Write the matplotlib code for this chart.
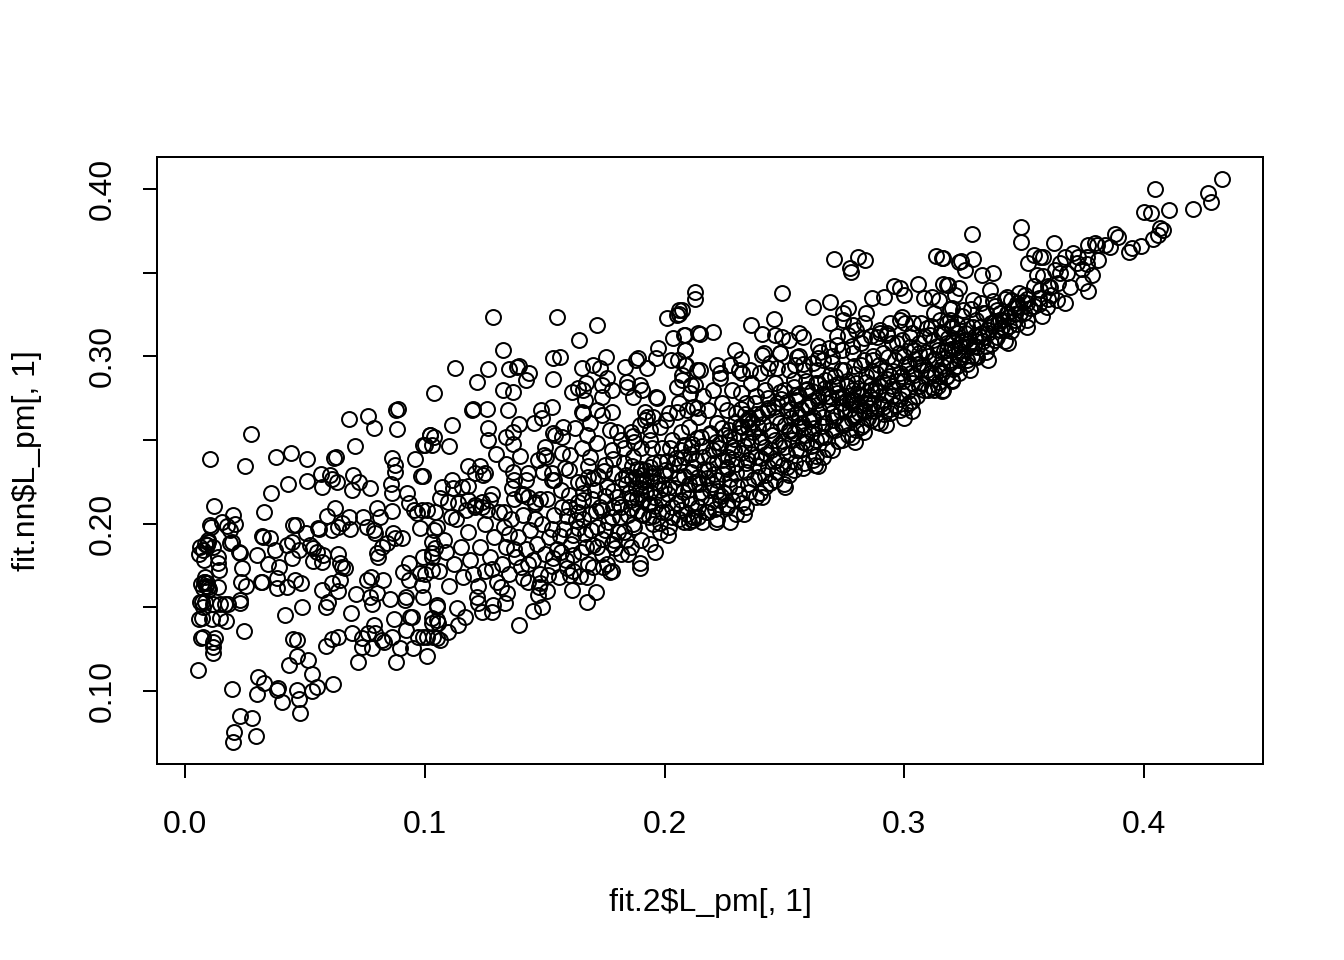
import numpy as np
import matplotlib
matplotlib.use("Agg")
import matplotlib.pyplot as plt

plt.rcParams['font.family'] = ['Liberation Sans', 'DejaVu Sans']

x_label = "fit.2$L_pm[, 1]"
y_label = "fit.nn$L_pm[, 1]"
x_ticks = [0.0, 0.1, 0.2, 0.3, 0.4]
x_tick_labels = ["0.0", "0.1", "0.2", "0.3", "0.4"]
y_ticks = [0.10, 0.15, 0.20, 0.25, 0.30, 0.35, 0.40]
y_tick_labels = ["0.10", "", "0.20", "", "0.30", "", "0.40"]

left_edge = [
(.0104,.2387),(.0104,.1992),(.0107,.1982),(.0122,.2108),(.0153,.2012),(.0202,.2052),(.0209,.1998),(.0174,.1986),
(.0188,.1962),(.0090,.1873),(.0063,.1863),(.0097,.1893),(.0118,.1863),(.0076,.1843),(.0060,.1819),(.0139,.1803),
(.0139,.1763),(.0143,.1723),(.0081,.1783),(.0188,.1887),(.0195,.1893),(.0227,.1833),(.0229,.1823),(.0239,.1737),
(.0232,.1654),(.0253,.1628),(.0229,.1544),(.0229,.1524),(.0246,.1361),(.0067,.1640),(.0090,.1644),(.0083,.1654),
(.0097,.1624),(.0076,.1614),(.0139,.1620),(.0083,.1683),(.0063,.1534),(.0083,.1534),(.0076,.1504),(.0118,.1520),
(.0146,.1520),(.0167,.1520),(.0181,.1520),(.0060,.1428),(.0069,.1434),(.0111,.1428),(.0146,.1434),(.0170,.1418),
(.0065,.1315),(.0076,.1321),(.0125,.1315),(.0115,.1295),(.0118,.1265),(.0115,.1225),(.0056,.1126),(.0085,.1880),
(.0080,.1650),(.0088,.1630),(.0094,.1900),(.0072,.1530),(.0100,.1610),(.0274,.2536),(.0249,.2343),
]
lower_left = [
(.0197,.1010),(.0229,.0853),(.0278,.0837),(.0204,.0757),(.0202,.0697),(.0296,.0733),(.0306,.1086),(.0331,.1050),
(.0302,.0980),(.0389,.1016),(.0382,.1006),(.0406,.0936),(.0466,.1006),(.0477,.0950),(.0480,.0870),(.0531,.1000),
(.0552,.1026),(.0616,.1042),(.0531,.1100),(.0514,.1185),(.0466,.1209),(.0434,.1155),(.0452,.1309),(.0466,.1305),
(.0587,.1271),(.0612,.1309),(.0637,.1321),(.0698,.1345),(.0720,.1175),(.0737,.1315),(.0737,.1265),(.0779,.1255),
(.0761,.1345),(.0788,.1394),(.0793,.1345),(.0820,.1305),(.0830,.1295),(.0862,.1325),(.0897,.1255),(.0879,.1175),
(.0952,.1255),(.0973,.1325),(.1011,.1209),(.1008,.1325),(.1050,.1315),(.0922,.1365),(.0939,.1440),(.0945,.1444),
(.0873,.1428),(.0691,.1464),(.0487,.1500),(.0417,.1454),(.0587,.1500),(.0595,.1534),(.0570,.1604),(.0612,.1648),
(.0637,.1598),(.0647,.1664),(.0713,.1580),(.0772,.1564),(.0779,.1520),(.0800,.1584),(.0855,.1548),(.0918,.1544),
(.0922,.1564),(.0758,.1664),(.0775,.1683),(.0825,.1664),(.0987,.1634),(.0994,.1564),(.1050,.1514),(.1029,.1404),
(.1050,.1424),
]
upper_left = [
(.0380,.2399),(.0441,.2423),(.0510,.2387),(.0684,.2626),(.0763,.2646),(.0786,.2572),(.0890,.2684),(.0880,.2680),
(.0884,.2568),(.0709,.2466),(.0628,.2400),(.0620,.2395),(.0959,.2385),(.0865,.2391),(.0875,.2351),(.0875,.2309),
(.0983,.2285),(.1022,.2530),(.0994,.2470),(.0302,.1813),(.0327,.1923),(.0320,.1927),(.0355,.1913),(.0376,.1843),
(.0424,.1873),(.0445,.1893),(.0477,.1843),(.0448,.1793),(.0348,.1759),(.0392,.1743),(.0315,.1654),(.0322,.1654),
(.0382,.1673),(.0385,.1614),(.0424,.1624),(.0459,.1664),(.0484,.1644),(.0521,.1873),(.0535,.1853),(.0549,.1833),
(.0577,.1813),(.0535,.1777),(.0570,.1773),(.0640,.1817),(.0647,.1763),(.0654,.1743),(.0668,.1738),(.0452,.1995),
(.0462,.1991),(.0503,.1942),(.0556,.1977),(.0560,.1967),(.0591,.2046),(.0626,.2092),(.0612,.1962),(.0640,.1982),
(.0654,.2002),(.0688,.1966),(.0685,.2038),(.0744,.2042),(.0758,.1982),(.0786,.1962),(.0800,.2092),(.0814,.2042),
(.0793,.1946),(.0868,.1942),(.0904,.1917),(.0876,.1913),(.0862,.2078),(.0841,.1883),(.0820,.1863),(.0800,.1823),
(.0806,.1803),(.0331,.2068),(.0360,.2185),(.0430,.2235),(.0507,.2255),(.0566,.2297),(.0605,.2291),(.0612,.2265),
(.0570,.2217),(.0633,.2251),(.0699,.2291),(.0727,.2251),(.0695,.2201),(.0772,.2215),(.0858,.2237),(.0862,.2181),
(.0925,.2181),(.0932,.2122),(.0953,.2082),(.0987,.2082),(.0967,.2062),(.1008,.2082),(.1043,.2072),(.0932,.1763),
(.0911,.1709),(.0932,.1664),(.0980,.1703),(.0994,.1803),(.1029,.1823),(.1043,.1853),(.1029,.1723),(.0980,.1972),
(.1029,.1893),(.1050,.1982),
]
upper_mid = [
(.1283,.3237),(.1550,.3233),(.1720,.3188),(.1645,.3098),(.1328,.3038),(.1533,.2992),(.1564,.2994),(.1754,.2998),
(.1126,.2933),(.1262,.2923),(.1219,.2845),(.1038,.2779),(.1353,.2925),(.1383,.2939),(.1393,.2942),(.1436,.2903),
(.1422,.2859),(.1328,.2799),(.1369,.2785),(.1533,.2863),(.1196,.2679),(.1200,.2685),(.1261,.2685),(.1348,.2679),
(.1112,.2590),(.1102,.2466),(.1022,.2530),(.1038,.2520),(.1001,.2470),(.1029,.2470),(.1265,.2574),(.1265,.2500),
(.1297,.2416),(.1337,.2520),(.1369,.2550),(.1393,.2596),(.1367,.2476),(.1397,.2405),(.1339,.2357),(.1483,.2679),
(.1529,.2699),(.1488,.2630),(.1456,.2604),(.1182,.2345),(.1230,.2347),(.1209,.2303),(.1244,.2291),(.1251,.2301),
(.0991,.2285),(.1070,.2221),(.1112,.2261),(.1119,.2211),(.1154,.2221),(.1182,.2225),(.1063,.2151),(.1098,.2132),
(.1140,.2122),(.1182,.2142),(.1209,.2112),(.1272,.2142),(.1237,.2102),(.1369,.2311),(.1373,.2261),(.1362,.2211),
(.1422,.2261),(.1432,.2305),(.1404,.2171),(.1432,.2161),(.1460,.2132),(.1474,.2381),(.1501,.2460),(.1497,.2411),
(.1505,.2401),(.1492,.2311),(.1532,.2301),(.1529,.2261),(.1536,.2540),(.1543,.2530),(.1578,.2580),(.1571,.2520),
(.1571,.2420),(.1606,.2411),(.1585,.2331),(.1627,.2570),(.1675,.2530),(.1654,.2450),(.1717,.2484),(.1689,.2401),
(.1682,.2347),(.1615,.2789),(.1640,.2809),(.1661,.2799),(.1672,.2839),(.1668,.2739),(.1654,.2929),(.1703,.2949),
(.1731,.2929),(.1738,.2829),(.1759,.2869),(.1779,.2799),(.1738,.2759),(.1654,.2670),(.1661,.2660),(.1717,.2679),
(.1738,.2650),(.1779,.2670),(.1689,.2600),(.1773,.2560),(.1800,.2550),(.1867,.2524),(.1898,.2590),(.1939,.2560),
(.2006,.2620),(.1925,.2640),(.1953,.2640),(.1919,.2670),(.1967,.2749),(.1964,.2759),(.1870,.2759),(.1842,.2849),
(.1842,.2819),(.1898,.2829),(.1905,.2799),(.1835,.2939),(.1881,.2978),(.1891,.2988),(.1928,.2929),(.1964,.2988),
(.1974,.3048),(.2009,.3227),(.2053,.3247),(.2062,.3277),(.2037,.3108),(.2081,.3128),(.2141,.3138),(.2085,.3038),
(.2026,.2978),(.2057,.2978),(.2085,.2949),(.2072,.2889),(.2072,.2859),(.2051,.2819),(.2134,.2919),(.2127,.2829),
(.2106,.2779),(.2051,.2670),(.2092,.2680),(.2134,.2690),
]
lower_mid = [
(.1393,.1394),(.1453,.1480),(.1488,.1504),(.1615,.1604),(.1678,.1534),(.1713,.1590),(.1773,.1713),(.1898,.1733),
(.1898,.1763),(.1960,.1833),(.1849,.1817),(.2016,.1932),(.2120,.2022),(.1050,.1504),(.1133,.1494),(.1168,.1444),
(.1140,.1394),(.1029,.1434),(.1056,.1404),(.1036,.1325),(.1063,.1305),(.1098,.1355),(.0994,.1325),(.1216,.1564),
(.1223,.1524),(.1237,.1474),(.1279,.1474),(.1286,.1514),(.1335,.1524),(.1344,.1588),(.1318,.1624),(.1474,.1574),
(.1478,.1624),(.1480,.1644),(.1515,.1693),(.1408,.1673),(.1592,.1733),(.1606,.1693),(.1647,.1687),(.1675,.1683),
(.1703,.1743),(.1745,.1743),(.1793,.1853),
]
body_low = [
(.100,.170),(.103,.180),(.106,.172),(.108,.190),(.110,.163),(.112,.176),(.113,.203),(.115,.186),(.116,.168),
(.118,.195),(.119,.178),(.121,.210),(.122,.163),(.123,.186),(.125,.172),(.125,.200),(.127,.180),(.128,.218),
(.129,.192),(.130,.165),(.131,.207),(.132,.176),(.133,.198),(.134,.186),(.135,.170),(.136,.203),(.137,.215),
(.138,.180),(.139,.192),(.140,.174),(.141,.205),(.142,.185),(.143,.165),(.144,.196),(.145,.178),(.146,.212),
(.147,.188),(.148,.170),(.149,.200),(.150,.182),(.151,.215),(.152,.192),(.153,.175),(.154,.205),(.155,.185),
(.156,.168),(.157,.220),(.158,.197),(.159,.178),(.160,.210),(.161,.188),(.162,.172),(.163,.202),(.164,.225),
(.165,.183),(.166,.214),(.167,.194),(.168,.176),(.169,.206),(.170,.187),(.171,.220),(.172,.198),(.104,.196),
(.111,.204),(.117,.208),(.124,.213),(.126,.208),(.133,.207),(.120,.170),(.128,.173),(.137,.185),(.143,.176),
(.151,.160),(.153,.197),(.157,.183),(.162,.193),(.166,.203),(.160,.232),(.168,.228),(.173,.210),(.172,.186),
(.176,.176),(.154,.226),(.148,.215),(.141,.218),(.109,.183),(.146,.203),(.135,.194),(.164,.213),
(.1535,.1795),(.1563,.1925),(.1592,.2043),(.1618,.1812),(.1641,.1973),(.1672,.1858),(.1694,.1962),(.1713,.2074),
(.1738,.1911),(.1766,.2013),(.1782,.1876),(.1571,.2098),(.1603,.2173),(.1637,.2071),(.1658,.2245),(.1697,.2149),
(.1724,.2287),(.1752,.2163),(.1787,.2098),(.1807,.1948),(.1816,.2041),(.1839,.1903),(.1858,.2093),(.1873,.1979),
]
band_a = [
(.174,.182),(.175,.196),(.174,.208),(.176,.222),(.175,.235),(.178,.172),(.179,.190),(.178,.204),(.180,.216),
(.179,.230),(.178,.244),(.182,.182),(.183,.195),(.182,.210),(.184,.224),(.183,.236),(.182,.250),(.186,.186),
(.187,.200),(.186,.214),(.188,.228),(.187,.240),(.186,.255),(.190,.190),(.191,.205),(.190,.218),(.192,.232),
(.191,.226),(.190,.245),(.192,.262),(.194,.188),(.195,.200),(.194,.212),(.196,.225),(.195,.236),(.194,.250),
(.198,.195),(.199,.207),(.198,.220),(.200,.232),(.199,.245),(.198,.258),(.202,.198),(.203,.210),(.202,.222),
(.204,.236),(.203,.250),(.202,.266),(.206,.203),(.207,.214),(.206,.228),(.208,.240),(.207,.255),(.206,.272),
(.210,.201),(.211,.212),(.210,.224),(.212,.234),(.211,.246),(.210,.258),(.212,.270),(.211,.283),(.214,.204),
(.215,.216),(.214,.228),(.216,.240),(.215,.252),(.214,.264),(.216,.276),(.218,.207),(.219,.220),(.218,.232),
(.220,.244),(.219,.254),(.218,.268),(.220,.280),(.222,.203),(.223,.214),(.222,.226),(.224,.238),(.223,.248),
(.222,.260),(.224,.272),(.223,.287),(.226,.210),(.227,.222),(.226,.234),(.228,.246),(.227,.256),(.226,.268),
(.228,.280),(.230,.206),(.231,.218),(.230,.230),(.232,.242),(.231,.254),(.230,.266),(.232,.278),(.231,.292),
(.234,.210),(.235,.224),(.234,.236),(.236,.248),(.235,.258),(.234,.272),(.236,.284),(.235,.262),(.238,.216),
(.239,.228),(.238,.240),(.240,.252),(.239,.264),(.238,.276),(.240,.290),(.242,.222),(.243,.234),(.242,.246),
(.244,.256),(.243,.268),(.242,.280),(.244,.296),(.246,.226),(.247,.238),(.246,.250),(.248,.260),(.247,.272),
(.246,.284),(.248,.302),
]
band_b = [
(.250,.224),(.251,.234),(.250,.246),(.252,.256),(.251,.268),(.250,.280),(.252,.292),(.254,.232),(.255,.244),
(.254,.254),(.256,.264),(.255,.274),(.254,.286),(.256,.300),(.258,.236),(.259,.248),(.258,.258),(.260,.270),
(.259,.280),(.258,.292),(.262,.238),(.263,.250),(.262,.262),(.264,.274),(.263,.284),(.262,.296),(.264,.306),
(.266,.240),(.267,.252),(.266,.264),(.268,.276),(.267,.286),(.266,.298),(.270,.244),(.271,.256),(.270,.266),
(.272,.278),(.271,.288),(.270,.300),(.272,.312),(.274,.250),(.275,.260),(.274,.272),(.276,.282),(.275,.292),
(.274,.304),(.278,.252),(.279,.264),(.278,.274),(.280,.284),(.279,.294),(.278,.306),(.280,.316),(.282,.258),
(.283,.268),(.282,.276),(.284,.288),(.283,.298),(.282,.308),(.286,.262),(.287,.272),(.286,.280),(.288,.290),
(.287,.300),(.286,.312),(.290,.260),(.291,.270),(.290,.282),(.292,.292),(.291,.302),(.290,.314),(.294,.266),
(.295,.276),(.294,.288),(.296,.298),(.295,.308),(.294,.320),(.298,.268),(.299,.278),(.298,.290),(.300,.300),
(.299,.310),(.298,.322),(.302,.272),(.303,.284),(.302,.294),(.304,.304),(.303,.314),(.306,.282),(.307,.292),
(.306,.302),(.308,.312),(.307,.320),(.310,.280),(.311,.290),(.310,.300),(.312,.310),(.311,.318),(.314,.282),
(.315,.292),(.314,.304),(.316,.314),(.315,.322),(.318,.288),(.319,.298),(.318,.308),(.320,.318),(.319,.328),
(.322,.294),(.323,.304),(.322,.314),(.324,.324),(.326,.298),(.327,.308),(.326,.318),(.328,.328),
(.330,.300),(.331,.312),(.330,.322),(.332,.332),(.334,.306),(.335,.316),(.334,.326),(.338,.310),(.339,.320),
(.338,.330),(.342,.316),(.343,.326),(.342,.334),(.346,.322),(.347,.332),(.350,.326),(.351,.334),(.354,.330),
]
core_a = [
(.1812,.2117),(.1838,.2291),(.1851,.2183),(.1866,.2344),(.1879,.2212),(.1887,.2078),(.1902,.2327),(.1911,.2143),
(.1924,.2261),(.1933,.2039),(.1941,.2187),(.1952,.2303),(.1961,.2108),(.1973,.2246),(.1982,.2006),(.1989,.2139),
(.1996,.2288),(.2007,.2069),(.2014,.2175),(.2023,.2317),(.2031,.2038),(.2042,.2216),(.2051,.2121),(.2059,.2349),
(.2068,.2083),(.2077,.2191),(.2083,.2286),(.2092,.2057),(.2101,.2153),(.2112,.2308),(.2118,.2041),(.2127,.2244),
(.2133,.2379),(.2141,.2097),(.2152,.2188),(.2163,.2326),(.2171,.2069),(.2179,.2271),(.2186,.2413),(.2194,.2132),
(.2203,.2361),(.2211,.2087),(.2217,.2198),(.2226,.2452),(.2234,.2163),(.2243,.2295),(.2251,.2528),(.2259,.2109),
(.2266,.2397),(.2273,.2268),(.2281,.2141),(.2288,.2503),(.2296,.2354),(.2304,.2226),(.2313,.2583),(.2322,.2121),
(.2331,.2462),(.2338,.2311),(.2344,.2621),(.2352,.2191),(.2359,.2419),(.2367,.2548),(.2373,.2267),(.2381,.2658),
(.2389,.2347),(.2396,.2181),(.2404,.2486),(.2412,.2596),(.2418,.2291),(.2425,.2419),(.2433,.2692),(.2441,.2243),
(.2449,.2531),(.2457,.2376),(.2463,.2639),(.2471,.2308),(.2479,.2471),(.2487,.2746),(.2494,.2352),(.2502,.2587),
(.2197,.2236),(.2246,.2184),(.2291,.2439),(.2348,.2512),(.2364,.2609),(.2321,.2576),(.2337,.2654),(.2391,.2576),
(.2143,.2239),(.2098,.2203),(.2056,.2276),(.1998,.2213),(.1931,.2118),(.1884,.2153),(.1846,.2049),(.1907,.2291),
(.1938,.2338),(.1887,.2327),(.1865,.2268),(.1923,.2194),(.1912,.2248),(.1947,.2282),(.1899,.2211),(.1958,.2161),
]
core_b = [
(.2511,.2419),(.2518,.2291),(.2527,.2634),(.2533,.2502),(.2542,.2368),(.2549,.2766),(.2556,.2583),(.2564,.2441),
(.2571,.2688),(.2578,.2331),(.2586,.2529),(.2593,.2804),(.2601,.2627),(.2609,.2462),(.2616,.2736),(.2623,.2569),
(.2631,.2403),(.2639,.2842),(.2646,.2681),(.2653,.2518),(.2661,.2773),(.2669,.2604),(.2676,.2447),(.2684,.2719),
(.2691,.2891),(.2699,.2562),(.2706,.2823),(.2714,.2642),(.2722,.2493),(.2729,.2754),(.2737,.2918),(.2744,.2589),
(.2752,.2681),(.2759,.2851),(.2767,.2531),(.2775,.2732),(.2782,.2624),(.2789,.2893),(.2797,.2559),(.2804,.2777),
(.2812,.2661),(.2819,.2951),(.2827,.2591),(.2834,.2719),(.2842,.2846),(.2849,.2632),(.2857,.2758),(.2864,.2912),
(.2872,.2671),(.2879,.2801),(.2887,.2605),(.2894,.2947),(.2902,.2716),(.2909,.2849),(.2917,.2653),(.2924,.2767),
(.2932,.2996),(.2939,.2688),(.2947,.2824),(.2954,.2914),(.2962,.2709),(.2969,.2854),(.2977,.3021),(.2984,.2747),
(.2992,.2883),(.3001,.2692),(.3008,.2956),(.3016,.2791),(.3023,.3057),(.3031,.2731),(.3039,.2891),(.3046,.2983),
(.3054,.2764),(.3061,.3081),(.3069,.2841),(.3077,.2946),(.3084,.2797),(.3092,.3024),(.3099,.2877),(.3107,.3126),
(.3114,.2814),(.3122,.2982),(.3129,.2892),(.3137,.3061),(.3144,.2846),(.3152,.3147),(.3159,.2943),(.3167,.3034),
(.3174,.2878),(.3182,.3112),(.3189,.2961),(.3197,.3171),(.3204,.2924),(.3212,.3049),(.3221,.3191),(.3229,.2977),
(.3237,.3087),(.3246,.3016),(.3254,.3141),(.3263,.2952),(.3271,.3063),(.3282,.3002),(.3293,.3122),(.3304,.3054),
(.3316,.3174),(.3327,.3092),(.3339,.3023),(.3351,.3142),(.3362,.3071),(.3374,.3204),(.3386,.3118),(.3397,.3261),
(.3409,.3174),(.3421,.3092),(.3433,.3233),(.3444,.3151),(.3456,.3289),(.3468,.3196),(.3481,.3257),(.3493,.3324),
(.2761,.2738),(.2773,.2684),(.2809,.2712),(.2818,.2769),(.2793,.2651),(.2786,.2796),(.2831,.2667),(.2746,.2763),
(.2736,.2672),(.2858,.2689),(.2846,.2741),(.2529,.2687),(.2554,.2661),(.2573,.2599),(.2601,.2708),(.2618,.2637),
]
core_c = [
(.2021,.2452),(.2048,.2391),(.2083,.2472),(.2109,.2417),(.2136,.2513),(.2158,.2462),(.2189,.2538),(.2213,.2486),
(.2238,.2571),(.2267,.2519),(.2294,.2602),(.2319,.2688),(.2352,.2631),(.2378,.2719),(.2406,.2664),(.2431,.2751),
(.2458,.2698),(.2483,.2787),(.2509,.2728),(.2538,.2819),(.2562,.2763),(.2589,.2852),(.2614,.2791),(.2642,.2756),
(.2668,.2811),(.2693,.2754),(.2719,.2834),(.2206,.2296),(.2261,.2328),(.2283,.2384),(.2346,.2381),(.2401,.2393),
(.2443,.2441),(.2492,.2496),(.2524,.2553),(.2576,.2486),(.2613,.2541),(.2658,.2582),(.2701,.2617),(.2738,.2591),
(.2791,.2738),(.2829,.2801),(.2862,.2831),(.2891,.2788),(.2927,.2867),(.2953,.2802),(.2996,.2854),(.3027,.2903),
(.3058,.2956),(.3093,.2921),(.3128,.2983),(.3162,.2991),(.3193,.3041),(.3228,.3072),(.3258,.3096),(.3291,.3059),
(.3326,.3138),(.3361,.3197),(.3398,.3216),(.3436,.3181),(.3476,.3302),(.3524,.3288),(.3561,.3312),(.3612,.3364),
(.1786,.2386),(.1829,.2453),(.1873,.2488),(.1946,.2451),(.1983,.2367),(.2012,.2376),(.2067,.2441),(.2116,.2477),
(.1661,.2184),(.1702,.2271),(.1746,.2312),(.1784,.2193),(.1823,.2268),(.1858,.2159),(.1904,.2058),(.1951,.2047),
]
upper_right = [
(.2706,.3580),(.2806,.3596),(.2834,.3576),(.2774,.3526),(.2777,.3506),(.3133,.3600),(.3157,.3586),(.3230,.3566),
(.2489,.3381),(.2128,.3387),(.2128,.3341),(.2072,.3277),(.2060,.3250),(.2621,.3293),(.2691,.3327),(.2457,.3221),
(.2361,.3187),(.2406,.3132),(.2204,.3144),(.2148,.3132),(.2086,.3128),(.2461,.3128),(.2489,.3118),(.2559,.3138),
(.2579,.3114),(.2517,.3098),(.2691,.3197),(.2746,.3257),(.2767,.3287),(.2839,.3257),(.2746,.3217),(.2788,.3187),
(.2830,.3197),(.2867,.3347),(.2917,.3353),(.2955,.3422),(.2983,.3407),(.2997,.3367),(.3058,.3430),(.3080,.3351),
(.3115,.3357),(.3143,.3337),(.3163,.3430),(.3184,.3426),(.3212,.3367),(.3122,.3257),(.3198,.3287),(.2990,.3237),
(.3038,.3197),(.3004,.3197),(.2899,.3158),(.2927,.3128),(.2767,.3128),(.2292,.3038),(.2319,.2982),(.2218,.2948),
(.2146,.2918),(.2090,.2948),(.2086,.3038),(.2406,.3008),(.2413,.3018),(.2482,.3018),(.2552,.2998),(.2579,.2954),
(.2545,.2948),(.2433,.2928),(.2468,.2928),(.2232,.2899),(.2274,.2948),(.2357,.2918),(.2322,.2899),(.2649,.3028),
(.2642,.2988),(.2684,.3048),(.2718,.3068),(.2635,.2918),(.2698,.2958),(.2830,.3108),(.2885,.3118),(.2927,.3138),
(.2788,.3018),(.2871,.2978),(.2969,.3078),(.3024,.3118),(.3094,.3167),(.3177,.3197),(.3219,.3138),
]
lower_right = [
(.2332,.2056),(.2271,.2012),(.2214,.2008),(.2155,.2012),(.2114,.2022),(.2079,.2012),(.2406,.2161),(.2503,.2221),
(.2628,.2351),(.2642,.2345),(.2795,.2490),(.2830,.2550),(.2924,.2590),(.2997,.2630),(.3031,.2675),(.3156,.2793),
(.3122,.2799),(.3198,.2853),(.3226,.2899),(.3163,.2799),(.3198,.2859),(.3274,.2919),(.3351,.2978),(.3434,.3078),
(.3513,.3178),(.3573,.3238),(.3670,.3317),(.3765,.3393),(.3747,.3437),
]
tip = [
(.4327,.4058),(.4266,.3975),(.4278,.3925),(.4206,.3883),(.4046,.4001),(.4106,.3875),(.3999,.3865),(.4028,.3859),
(.4067,.3766),(.4078,.3752),(.4060,.3726),(.4039,.3702),(.3987,.3660),(.3949,.3650),(.3937,.3622),(.3879,.3732),
(.3890,.3712),(.3858,.3656),(.3837,.3666),(.3803,.3666),(.3796,.3676),(.3765,.3666),(.3623,.3676),(.3488,.3770),
(.3485,.3682),(.3282,.3730),(.3235,.3572),(.3288,.3580),(.3253,.3513),(.3163,.3586),(.3542,.3606),(.3566,.3596),
(.3580,.3596),(.3517,.3556),(.3552,.3487),(.3670,.3596),(.3705,.3616),(.3726,.3596),(.3761,.3596),(.3809,.3576),
(.3782,.3487),(.3323,.3487),(.3371,.3497),(.3358,.3397),(.3177,.3427),(.3230,.3407),(.3427,.3357),(.3504,.3367),
(.3447,.3337),(.3566,.3397),(.3608,.3417),(.3650,.3497),(.3629,.3517),(.3719,.3556),(.3691,.3417),(.3636,.3337),
(.3594,.3297),(.3510,.3218),(.3469,.3297),(.3385,.3277),(.3330,.3258),(.3288,.3337),(.3246,.3277),(.3399,.3158),
(.3330,.3118),(.3288,.3178),(.3246,.3098),(.3191,.3218),(.3205,.3098),(.3177,.3038),(.3302,.2998),(.3232,.2998),
(.3156,.2899),(.3600,.3420),(.3640,.3440),(.3680,.3500),(.3740,.3520),(.3760,.3550),(.3650,.3560),(.3580,.3480),
(.3540,.3420),(.3480,.3380),(.3560,.3350),(.3600,.3340),(.3510,.3320),(.3460,.3250),(.3410,.3220),(.3370,.3330),
]

groups = [left_edge, lower_left, upper_left, upper_mid, lower_mid, body_low,
          band_a, band_b, core_a, core_b, core_c, upper_right, lower_right, tip]
points = np.array([p for g in groups for p in g])

W, H = 1344, 960
fig = plt.figure(figsize=(W / 192, H / 192), dpi=192)
ax = fig.add_axes([157 / W, 1 - 764 / H, (1263 - 157) / W, (764 - 157) / H])

ax.plot(points[:, 0], points[:, 1], linestyle="none", marker="o", markersize=5.6,
        markerfacecolor="none", markeredgecolor="black", markeredgewidth=0.75)

ax.set_xlim(-0.0117, 0.4496)
ax.set_ylim(0.0564, 0.4191)
ax.set_xticks(x_ticks, x_tick_labels)
ax.set_yticks(y_ticks, y_tick_labels)
ax.tick_params(axis="both", length=5.25, width=0.75, labelsize=12, color="black")
ax.tick_params(axis="x", pad=12)
ax.tick_params(axis="y", pad=9.5)
for lab in ax.get_yticklabels():
    lab.set_rotation(90)
    lab.set_verticalalignment("center")
for s in ax.spines.values():
    s.set_linewidth(0.75)

fig.text(710 / W, 1 - 903 / H, x_label, ha="center", va="center", fontsize=12)
fig.text(27 / W, 1 - 461 / H, y_label, ha="center", va="center", rotation=90, fontsize=12)

fig.savefig("out.png", dpi=192)
